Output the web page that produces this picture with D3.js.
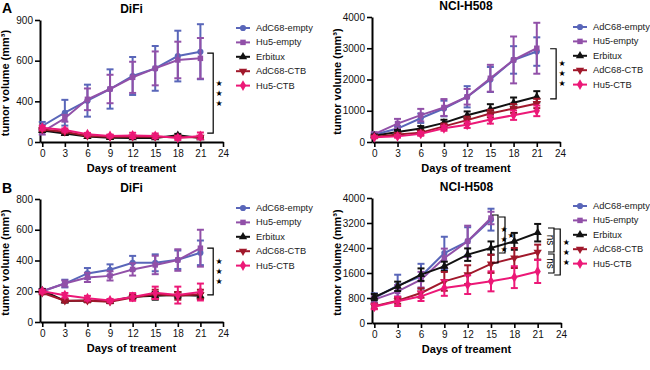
<!DOCTYPE html>
<html>
<head>
<meta charset="utf-8">
<script src="https://cdn.jsdelivr.net/npm/d3@7"></script>
<style>
  body { margin: 0; background: #fff; }
  svg { display: block; font-family: "Liberation Sans", Arial, sans-serif; }
</style>
</head>
<body>
<div id="chart"></div>
<script>
/*********************** data ******************/
const days = [0, 3, 6, 9, 12, 15, 18, 21];
const xTicks = [0, 3, 6, 9, 12, 15, 18, 21, 24];
const groups = ["AdC68-empty", "Hu5-empty", "Erbitux", "AdC68-CTB", "Hu5-CTB"];

// panel A, DiFi
const difiAMeans = [
  [118, 216, 305, 391, 487, 543, 634, 666],
  [75, 175, 315, 391, 477, 543, 605, 617],
  [85, 62, 40, 32, 30, 30, 50, 30],
  [92, 75, 45, 38, 38, 38, 35, 35],
  [105, 88, 57, 45, 48, 45, 30, 45],
];
const difiAErrors = [
  [30, 95, 118, 145, 140, 165, 187, 203],
  [20, 25, 80, 105, 115, 125, 135, 150],
  [10, 10, 8, 8, 8, 8, 10, 8],
  [10, 10, 8, 8, 8, 8, 8, 8],
  [15, 12, 10, 10, 20, 18, 15, 25],
];
const difiAYTicks = [0, 300, 600, 900];
const difiAYLabels = ["0", "400", "600", "900"];

// panel A, NCI-H508
const nciAMeans = [
  [230, 430, 760, 1072, 1447, 2000, 2626, 2894],
  [250, 590, 860, 1104, 1447, 2040, 2626, 3000],
  [200, 322, 429, 611, 858, 1050, 1254, 1447],
  [160, 240, 300, 500, 700, 911, 1072, 1233],
  [150, 180, 260, 440, 550, 718, 858, 997],
];
const nciAErrors = [
  [50, 80, 150, 250, 340, 400, 440, 455],
  [60, 150, 200, 270, 250, 430, 750, 815],
  [40, 60, 80, 100, 120, 160, 170, 180],
  [30, 50, 70, 90, 110, 120, 140, 150],
  [30, 40, 60, 80, 100, 130, 150, 170],
];
const nciAYTicks = [0, 1000, 2000, 3000, 4000];

// panel B, DiFi
const difiBMeans = [
  [200, 250, 316, 340, 385, 385, 405, 450],
  [200, 250, 290, 300, 342, 371, 403, 480],
  [205, 137, 140, 135, 165, 170, 175, 170],
  [190, 138, 138, 132, 160, 180, 170, 180],
  [200, 174, 155, 140, 163, 190, 175, 195],
];
const difiBErrors = [
  [15, 25, 35, 35, 45, 55, 60, 80],
  [15, 20, 30, 30, 40, 60, 70, 120],
  [10, 10, 10, 10, 15, 25, 20, 20],
  [10, 10, 10, 10, 15, 30, 25, 30],
  [10, 15, 15, 10, 25, 40, 55, 55],
];
const difiBYTicks = [0, 200, 400, 600, 800];

// panel B, NCI-H508 (empty groups stop at day 15)
const nciBMeans = [
  [800, 1195, 1494, 2240, 2614, 3307],
  [747, 1013, 1387, 2080, 2614, 3360],
  [830, 1173, 1547, 1813, 2187, 2400, 2613, 2890],
  [540, 715, 960, 1333, 1547, 1893, 2080, 2267],
  [520, 693, 853, 1120, 1227, 1333, 1467, 1650],
];
const nciBErrors = [
  [150, 350, 400, 520, 450, 350],
  [100, 200, 250, 300, 500, 200],
  [100, 150, 200, 150, 200, 210, 270, 280],
  [80, 100, 150, 300, 300, 290, 320, 240],
  [80, 150, 150, 250, 300, 320, 350, 370],
];
const nciBYTicks = [0, 800, 1600, 2400, 3200, 4000];

// significance brackets: day position, value range, label
const difiABrackets = [{ day: 22.7, from: 656, to: 66, label: "***" }];
const nciABrackets = [{ day: 23.5, from: 2984, to: 1380, label: "***" }];
const difiBBrackets = [{ day: 22.7, from: 481, to: 176, label: "***" }];
const nciBBrackets = [
  { day: 15.9, from: 3456, to: 1920, label: "***" },
  { day: 16.8, from: 3392, to: 2240, label: "*" },
  { day: 23.1, from: 3040, to: 2272, label: "ns" },
  { day: 23.1, from: 2208, to: 1600, label: "ns" },
  { day: 23.9, from: 3008, to: 1536, label: "***" },
];

main();

function main () {
  const width = 650,
    height = 370;

  const colors = ["#5966b9", "#9150a8", "#111111", "#a0182b", "#ec1877"];
  const shapes = [
    { type: d3.symbolCircle, size: 30, rot: 0 },
    { type: d3.symbolSquare, size: 30, rot: 0 },
    { type: d3.symbolTriangle, size: 30, rot: 0 },
    { type: d3.symbolTriangle, size: 30, rot: 180 },
    { type: d3.symbolDiamond, size: 34, rot: 0 },
  ];

  const svg = d3
    .select("#chart")
    .append("svg")
    .attr("width", width)
    .attr("height", height);

  const panels = [
    { title: "DiFi", means: difiAMeans, errors: difiAErrors, yMax: 900, yTicks: difiAYTicks, yLabels: difiAYLabels,
      brackets: difiABrackets, x0: 40, x1: 223, yTop: 20, yBottom: 142, legendX: 236, legendY: 28 },
    { title: "NCI-H508", means: nciAMeans, errors: nciAErrors, yMax: 4000, yTicks: nciAYTicks, yLabels: null,
      brackets: nciABrackets, x0: 372, x1: 560, yTop: 17, yBottom: 142, legendX: 573, legendY: 27 },
    { title: "DiFi", means: difiBMeans, errors: difiBErrors, yMax: 800, yTicks: difiBYTicks, yLabels: null,
      brackets: difiBBrackets, x0: 40, x1: 223, yTop: 199, yBottom: 322, legendX: 236, legendY: 208 },
    { title: "NCI-H508", means: nciBMeans, errors: nciBErrors, yMax: 4000, yTicks: nciBYTicks, yLabels: null,
      brackets: nciBBrackets, x0: 372, x1: 561, yTop: 198, yBottom: 323, legendX: 573, legendY: 206 },
  ];

  panels.forEach((p) => renderPanel(svg, p, colors, shapes));

  // panel letters
  svg.append("text").text("A").attr("x", 2).attr("y", 13)
    .attr("font-size", "14px").attr("font-weight", "bold");
  svg.append("text").text("B").attr("x", 2).attr("y", 193)
    .attr("font-size", "14px").attr("font-weight", "bold");
}

function renderPanel (root, p, colors, shapes) {
  const g = root.append("g");

  const scaleX = d3.scaleLinear().domain([-0.3, 24]).range([p.x0, p.x1]);
  const scaleY = d3.scaleLinear().domain([0, p.yMax]).range([p.yBottom, p.yTop]);

  // axes
  const axisX = g.append("g")
    .attr("transform", `translate(0, ${p.yBottom})`)
    .call(d3.axisBottom(scaleX).tickValues(xTicks).tickSize(5).tickSizeOuter(0).tickPadding(3));
  const axisY = g.append("g")
    .attr("transform", `translate(${p.x0}, 0)`)
    .call(d3.axisLeft(scaleY).tickValues(p.yTicks).tickSize(5).tickSizeOuter(0).tickPadding(2)
      .tickFormat((d, i) => (p.yLabels ? p.yLabels[i] : d)));
  [axisX, axisY].forEach((a) => {
    a.select(".domain").attr("stroke", "#000").attr("stroke-width", 2);
    a.selectAll(".tick line").attr("stroke", "#000").attr("stroke-width", 1.6);
    a.selectAll(".tick text").attr("fill", "#111").attr("font-size", "10px")
      .attr("font-family", "Liberation Sans, Arial, sans-serif");
  });

  // titles
  const cx = (p.x0 + p.x1) / 2;
  g.append("text").text(p.title)
    .attr("x", cx).attr("y", p.yTop - 7)
    .attr("text-anchor", "middle").attr("font-size", "12px").attr("font-weight", "bold");
  g.append("text").text("Days of treament")
    .attr("x", cx).attr("y", p.yBottom + 30)
    .attr("text-anchor", "middle").attr("font-size", "11px").attr("font-weight", "bold");
  g.append("text").text("tumor volume (mm³)")
    .attr("transform", `translate(${p.x0 - 31}, ${(p.yTop + p.yBottom) / 2 + 2}) rotate(-90)`)
    .attr("text-anchor", "middle").attr("font-size", "11px").attr("font-weight", "bold");

  // series
  p.means.forEach((vals, si) => {
    const pts = vals.map((v, i) => ({ x: days[i], y: v, e: p.errors[si][i] }));
    const col = colors[si];
    const sg = g.append("g");

    sg.append("path")
      .datum(pts)
      .attr("fill", "none")
      .attr("stroke", col)
      .attr("stroke-width", 2)
      .attr("d", d3.line().x((d) => scaleX(d.x)).y((d) => scaleY(d.y)));

    const eb = sg.selectAll(".err").data(pts).join("g").attr("class", "err")
      .attr("stroke", col).attr("stroke-width", 2);
    eb.append("line")
      .attr("x1", (d) => scaleX(d.x)).attr("x2", (d) => scaleX(d.x))
      .attr("y1", (d) => scaleY(d.y - d.e)).attr("y2", (d) => scaleY(d.y + d.e));
    eb.append("line")
      .attr("x1", (d) => scaleX(d.x) - 3.5).attr("x2", (d) => scaleX(d.x) + 3.5)
      .attr("y1", (d) => scaleY(d.y + d.e)).attr("y2", (d) => scaleY(d.y + d.e));
    eb.append("line")
      .attr("x1", (d) => scaleX(d.x) - 3.5).attr("x2", (d) => scaleX(d.x) + 3.5)
      .attr("y1", (d) => scaleY(d.y - d.e)).attr("y2", (d) => scaleY(d.y - d.e));

    const sym = d3.symbol().type(shapes[si].type).size(shapes[si].size);
    sg.selectAll(".mark").data(pts).join("path").attr("class", "mark")
      .attr("fill", col)
      .attr("d", sym)
      .attr("transform", (d) => `translate(${scaleX(d.x)}, ${scaleY(d.y)}) rotate(${shapes[si].rot})`);
  });

  // brackets
  p.brackets.forEach((b) => {
    const bx = scaleX(b.day);
    const y1 = scaleY(b.from), y2 = scaleY(b.to);
    g.append("path")
      .attr("fill", "none").attr("stroke", "#000").attr("stroke-width", 1.2)
      .attr("d", `M${bx - 6},${y1}H${bx}V${y2}H${bx - 6}`);
    const my = (y1 + y2) / 2;
    if (b.label === "ns") {
      g.append("text").text("ns")
        .attr("transform", `translate(${bx - 4}, ${my}) rotate(90)`)
        .attr("text-anchor", "middle").attr("dominant-baseline", "middle")
        .attr("font-size", "10px");
    } else {
      const n = b.label.length;
      for (let i = 0; i < n; i++) {
        g.append("text").text("★")
          .attr("x", bx + 6).attr("y", my + (i - (n - 1) / 2) * 10)
          .attr("text-anchor", "middle").attr("dominant-baseline", "central")
          .attr("font-size", "8px").attr("font-family", "DejaVu Sans");
      }
    }
  });

  // legend
  const lg = g.append("g").attr("transform", `translate(${p.legendX}, ${p.legendY})`);
  groups.forEach((name, i) => {
    const row = lg.append("g").attr("transform", `translate(0, ${i * 14.4})`);
    row.append("line").attr("x1", 0).attr("x2", 14).attr("y1", 0).attr("y2", 0)
      .attr("stroke", colors[i]).attr("stroke-width", 2);
    row.append("path")
      .attr("d", d3.symbol().type(shapes[i].type).size(shapes[i].size))
      .attr("fill", colors[i])
      .attr("transform", `translate(7, 0) rotate(${shapes[i].rot})`);
    row.append("text").text(name)
      .attr("x", 20).attr("y", 0).attr("dominant-baseline", "central")
      .attr("font-size", "9.3px").attr("fill", "#222");
  });
}
</script>
</body>
</html>
